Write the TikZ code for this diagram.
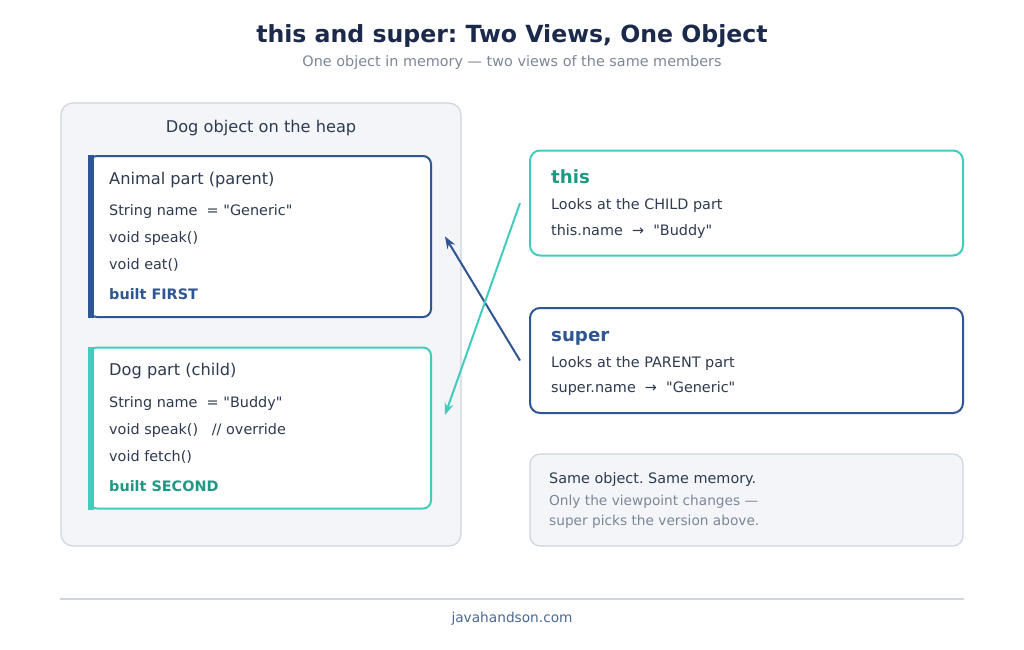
\documentclass[tikz,border=0pt]{standalone}
\usepackage{fontspec}
\setmainfont{DejaVu Sans}
\newfontfamily\plainfont{DejaVu Sans}
\usetikzlibrary{positioning,arrows.meta}
\frenchspacing
\definecolor{navy}{HTML}{1B2A4A}
\definecolor{partblue}{HTML}{2F5592}
\definecolor{childteal}{HTML}{40CDBE}
\definecolor{tealtext}{HTML}{1E9985}
\definecolor{bodytext}{HTML}{2E3A4F}
\definecolor{mutedgray}{HTML}{7D8798}
\definecolor{panelfill}{HTML}{F3F5F9}
\definecolor{panelline}{HTML}{CDD5E0}
\definecolor{linkblue}{HTML}{4A6892}
\newcommand{\qt}[1]{{\plainfont"#1"}}
\tikzset{
    panel/.style ={draw=panelline, fill=panelfill, line width=1.2pt, rounded corners=12pt, inner sep=0pt},
    part/.style ={fill=white, line width=2pt, rounded corners=8pt, inner sep=0pt, minimum width=342pt, minimum height=161pt},
    viewbox/.style ={fill=white, line width=2pt, rounded corners=10pt, inner sep=0pt, minimum width=433pt, minimum height=105pt},
    member/.style ={anchor=base west, inner sep=0pt, text=bodytext, font=\fontsize{14.4}{17}\selectfont},
    heading/.style ={anchor=base west, inner sep=0pt, text=bodytext, font=\fontsize{16.2}{19}\selectfont},
    viewname/.style ={anchor=base west, inner sep=0pt, font=\fontsize{18.2}{21}\bfseries},
    link/.style ={line width=2pt, -{Stealth[length=12pt,width=9pt]}}
}
\begin{document}
\begin{tikzpicture}[x=1pt,y=-1pt]
    \useasboundingbox[fill=white] (0,0) rectangle (1024,649);
    % title
    \node[text=navy, font=\fontsize{23.6}{28}\bfseries] (title) at (512,36) {this and super: Two Views, One Object};
    \node[text=mutedgray, font=\fontsize{14.4}{17}\selectfont] (subtitle) at (512,63) {One object in memory — two views of the same members};
    % the heap object
    \node[panel, minimum width=400pt, minimum height=443pt] (heap) at (261,324.5) {};
    \node[text=bodytext, font=\fontsize{16.2}{19}\selectfont] (heaplabel) at (261,128) {Dog object on the heap};
    \node[part, draw=partblue] (animal) at (260,236.5) {};
    \fill[partblue] (animal.north west) rectangle ([xshift=6pt]animal.south west);
    \node[part, draw=childteal] (dog) at (260,428) {};
    \fill[childteal] (dog.north west) rectangle ([xshift=6pt]dog.south west);
    \node[heading] (animalhead) at (109,184) {Animal part (parent)};
    \node[member] (animalname) at (109,215) {String name\ \ = \qt{Generic}};
    \node[member] (animalspeak) at (109,242) {void speak()};
    \node[member] (animaleat) at (109,269) {void eat()};
    \node[member, text=partblue, font=\fontsize{14.4}{17}\bfseries] (animalorder) at (109,299) {built FIRST};
    \node[heading] (doghead) at (109,375) {Dog part (child)};
    \node[member] (dogname) at (109,407) {String name\ \ = \qt{Buddy}};
    \node[member] (dogspeak) at (109,434) {void speak()\ \ \ // override};
    \node[member] (dogfetch) at (109,461) {void fetch()};
    \node[member, text=tealtext, font=\fontsize{14.4}{17}\bfseries] (dogorder) at (109,491) {built SECOND};
    % the two views
    \node[viewbox, draw=childteal] (thisbox) at (746.5,203) {};
    \node[viewname, text=tealtext] (thisname) at (551,183) {this};
    \node[member] (thislook) at (551,209) {Looks at the CHILD part};
    \node[member] (thisvalue) at (551,235) {this.name\ \ →\ \ \qt{Buddy}};
    \node[viewbox, draw=partblue] (superbox) at (746.5,360.5) {};
    \node[viewname, text=partblue] (supername) at (551,341) {super};
    \node[member] (superlook) at (551,367) {Looks at the PARENT part};
    \node[member] (supervalue) at (551,392) {super.name\ \ →\ \ \qt{Generic}};
    % note
    \node[panel, minimum width=433pt, minimum height=92pt, rounded corners=10pt] (note) at (746.5,500) {};
    \node[member] (notehead) at (549,483) {Same object. Same memory.};
    \node[member, text=mutedgray, font=\fontsize{13.7}{16}\selectfont] (noteline1) at (549,505) {Only the viewpoint changes —};
    \node[member, text=mutedgray, font=\fontsize{13.7}{16}\selectfont] (noteline2) at (549,525) {super picks the version above.};
    % arrows
    \coordinate (superfrom) at ([xshift=-9pt]superbox.west);
    \coordinate (superto) at ([xshift=13pt]animal.east);
    \coordinate (thisfrom) at ([xshift=-9pt]thisbox.west);
    \coordinate (thisto) at ([xshift=13pt,yshift=13pt]dog.east);
    \draw[link, partblue] (superfrom) -- (superto);
    \draw[link, childteal] (thisfrom) -- (thisto);
    % footer
    \draw[panelline, line width=1.5pt] (60,599) -- (964,599);
    \node[text=linkblue, font=\fontsize{13.7}{16}\selectfont] (site) at (512,619) {javahandson.com};
\end{tikzpicture}
\end{document}
